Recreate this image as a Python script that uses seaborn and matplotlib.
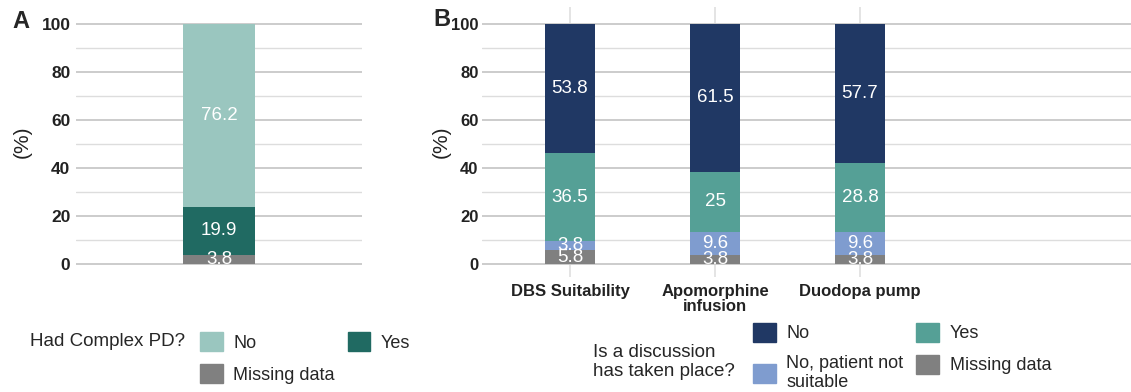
import numpy as np
import pandas as pd
import seaborn as sns
import matplotlib.pyplot as plt
from matplotlib.patches import Patch

sns.set_theme(style='white')
plt.rcParams['font.family'] = ['Liberation Sans', 'DejaVu Sans']

# panel A: had complex PD (bottom -> top)
a_levels = ['Missing data', 'Yes', 'No']
a_values = [3.8, 19.9, 76.2]
a_colors = ['#808080', '#206a62', '#9ac6bf']

# panel B: discussion has taken place (bottom -> top)
b_items = ['DBS Suitability', 'Apomorphine\ninfusion', 'Duodopa pump']
b_levels = ['Missing data', 'No, patient not\nsuitable', 'Yes', 'No']
b_missing = [5.8, 3.8, 3.8]
b_not_suitable = [3.8, 9.6, 9.6]
b_yes = [36.5, 25, 28.8]
b_no = [53.8, 61.5, 57.7]
b_colors = ['#808080', '#7f9ccf', '#55a096', '#203864']

W, H = 1131, 392
fig = plt.figure(figsize=(W / 100, H / 100), dpi=100)
ax_a = fig.add_axes([76 / W, 1 - 277 / H, 286 / W, 270 / H])
ax_b = fig.add_axes([482 / W, 1 - 277 / H, 649 / W, 270 / H])

lab_fs = 13.5


def stacked(ax, cats, layers, colors, width):
    df = pd.DataFrame(np.array(layers).T, index=cats)
    cum = df.cumsum(axis=1)
    # draw tallest cumulative first, smaller on top
    for j in reversed(range(df.shape[1])):
        sns.barplot(x=list(cats), y=cum[j].values, color=colors[j],
                    saturation=1, width=width, linewidth=0, ax=ax,
                    order=list(cats))
    for i in range(len(cats)):
        for j in range(df.shape[1]):
            v = df.iloc[i, j]
            mid = cum.iloc[i, j] - v / 2
            ax.text(i, mid, f'{v:g}', color='white', ha='center',
                    va='center', fontsize=lab_fs)


def style(ax, xlim, pad, tick_fs):
    ax.set_ylim(-5.4, 107)
    ax.set_xlim(*xlim)
    ax.set_yticks(range(0, 101, 20))
    ax.set_yticks(range(10, 100, 20), minor=True)
    ax.yaxis.grid(True, which='major', color='#cccccc', lw=1.4)
    ax.yaxis.grid(True, which='minor', color='#dddddd', lw=1.0)
    ax.set_axisbelow(True)
    for s in ax.spines.values():
        s.set_visible(False)
    ax.tick_params(axis='both', which='both', length=0)
    ax.tick_params(axis='y', pad=pad)
    for t in ax.get_yticklabels():
        t.set_fontweight('bold')
        t.set_fontsize(tick_fs)
        t.set_color('#222222')
    ax.set_ylabel('(%)', fontsize=15, color='#222222')


stacked(ax_a, [''], [[v] for v in a_values], a_colors, 0.3)
style(ax_a, (-0.6, 0.6), 4, 12.5)
ax_a.set_xticks([])
ax_a.set_xlabel('')
ax_a.yaxis.set_label_coords(-0.154, 0.5)

stacked(ax_b, b_items, [b_missing, b_not_suitable, b_yes, b_no], b_colors, 0.345)
style(ax_b, (-0.607, 3.869), 2.5, 12)
ax_b.xaxis.grid(True, color='#dddddd', lw=1.1)
ax_b.tick_params(axis='x', pad=5)
for t in ax_b.get_xticklabels():
    t.set_fontweight('bold')
    t.set_fontsize(12)
    t.set_color('#222222')
    t.set_linespacing(1.0)
ax_b.set_xlabel('')
ax_b.yaxis.set_label_coords(-0.048, 0.5)

fig.text(12 / W, 1 - 21 / H, 'A', fontsize=17, fontweight='bold', va='center')
fig.text(433 / W, 1 - 19 / H, 'B', fontsize=17, fontweight='bold', va='center')

# legends
leg_kw = dict(frameon=False, ncol=2, fontsize=13, handlelength=1.25,
              handleheight=1.25, handletextpad=0.6, columnspacing=0.7,
              labelspacing=0.7, borderpad=0, borderaxespad=0,
              loc='center left')
a_order = [2, 0, 1]
fig.legend([Patch(color=a_colors[k]) for k in a_order],
           [a_levels[k] for k in a_order],
           bbox_to_anchor=(200 / W, 1 - 358 / H), **leg_kw)
fig.text(30 / W, 1 - 342 / H, 'Had Complex PD?', fontsize=13.5, va='center')

b_order = [3, 1, 2, 0]
fig.legend([Patch(color=b_colors[k]) for k in b_order],
           [b_levels[k] for k in b_order],
           bbox_to_anchor=(753 / W, 1 - 357 / H), **leg_kw)
fig.text(593 / W, 1 - 362 / H, 'Is a discussion\nhas taken place?',
         fontsize=13.5, va='center', linespacing=1.15)

fig.savefig('out.png', dpi=100)
